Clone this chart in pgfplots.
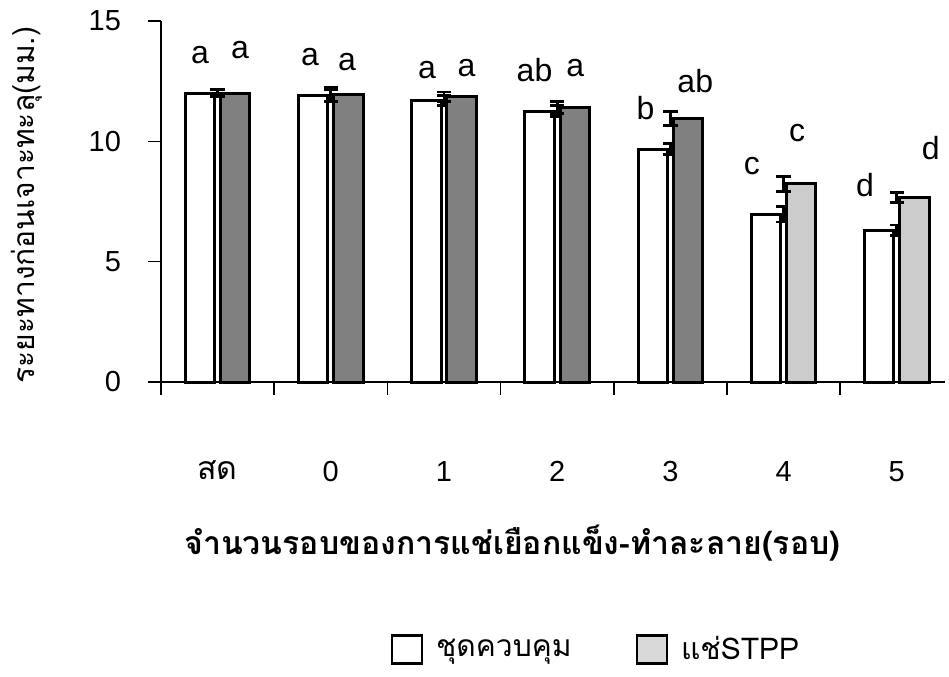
\documentclass[border=0pt]{standalone}
\usepackage{fontspec}
\setmainfont{Liberation Sans}
\newfontfamily\thaifont[Script=Thai]{Loma}
\usepackage{pgfplots}
\pgfplotsset{compat=1.18}

% mean and standard error per freeze-thaw cycle
\pgfplotstableread{
x  c     ce
0  12.00 0.15
1  11.90 0.25
2  11.70 0.20
3  11.26 0.22
4  9.68  0.24
5  6.97  0.32
6  6.30  0.22
}\controldata
\pgfplotstableread{
x  s     se
0  12.00 0.15
1  11.95 0.30
2  11.85 0.20
3  11.41 0.25
4  10.95 0.29
}\stppdark
\pgfplotstableread{
x  s     se
5  8.23  0.30
6  7.66  0.20
}\stpplight
% significance letters
\pgfplotstableread{
x     y     lbl
-0.155 13.60 a
0.198  13.80 a
0.816  13.50 a
1.143  13.30 a
1.850  12.96 a
2.200  13.05 a
2.800  12.96 ab
3.160  13.05 a
3.780  11.40 b
4.220  12.50 ab
4.720  8.97  c
5.120  10.35 c
5.720  8.20  d
6.300  9.70  d
}\letters

\pgfplotsset{
  barbase/.style={ybar, bar width=0.26, draw=black, line width=1.5pt, forget plot,
    error bars/y dir=both, error bars/y explicit,
    error bars/error bar style={line width=1.4pt},
    error bars/error mark options={rotate=90, mark size=3.6pt, line width=1.4pt}},
}

\begin{document}
\begin{tikzpicture}
\useasboundingbox (0,0) rectangle (474.5pt,338pt);
\begin{axis}[
  at={(80.5pt,147pt)}, anchor=south west,
  scale only axis, width=392pt, height=180.5pt,
  xmin=-0.5, xmax=6.426, ymin=0, ymax=15,
  axis x line*=bottom, axis y line*=left,
  axis line style={line width=1pt, -},
  ytick={0,5,10,15},
  xtick={-0.5,0.5,1.5,2.5,3.5,4.5,5.5}, xticklabels={},
  extra x ticks={0,1,2,3,4,5,6},
  extra x tick labels={{\thaifont\fontsize{16}{18}\selectfont สด},0,1,2,3,4,5},
  extra x tick style={major tick length=0pt, tick label style={yshift=-36pt}},
  tick align=outside, major tick length=6.5pt,
  tick style={line width=0.8pt, black},
  tick label style={font=\fontsize{14.5}{16}\selectfont},
  /pgf/number format/assume math mode=true,
  yticklabel style={xshift=-10pt},
  ylabel={\thaifont ระยะทางก่อนเจาะทะลุ(มม.)},
  ylabel style={at={(axis description cs:-0.171,0.49)}, anchor=center, rotate=0, font=\fontsize{15}{17}\selectfont},
  xlabel={\thaifont\bfseries จำนวนรอบของการแช่เยือกแข็ง-ทำละลาย(รอบ)},
  xlabel style={at={(axis description cs:0.448,-0.447)}, anchor=center, font=\fontsize{16}{18}\selectfont},
  legend style={at={(axis description cs:0.556,-0.74)}, anchor=center, draw=none,
    font=\fontsize{15}{17}\selectfont\thaifont, legend columns=2,
    /tikz/every even column/.append style={column sep=30pt}},
  legend cell align=left,
  clip=false,
]
\addplot[barbase, bar shift=-0.155, fill=white]
  table[x=x, y=c, y error=ce] {\controldata};
\addplot[barbase, bar shift=0.155, fill=black!50]
  table[x=x, y=s, y error=se] {\stppdark};
\addplot[barbase, bar shift=0.155, fill=black!20]
  table[x=x, y=s, y error=se] {\stpplight};
\addplot[draw=none, mark=none, forget plot, nodes near coords, point meta=explicit symbolic,
  every node near coord/.style={anchor=center, font=\fontsize{16}{18}\selectfont}]
  table[x=x, y=y, meta=lbl] {\letters};
\addlegendimage{legend image code/.code={\draw[black, line width=1.4pt, fill=white] (0pt,-7pt) rectangle (15pt,7pt); \path[draw=none] (0pt,0pt) -- (20pt,0pt);}}
\addlegendentry{ชุดควบคุม}
\addlegendimage{legend image code/.code={\draw[black, line width=1.4pt, fill=black!15] (0pt,-7pt) rectangle (15pt,7pt); \path[draw=none] (0pt,0pt) -- (20pt,0pt);}}
\addlegendentry{แช่STPP}
\end{axis}
\end{tikzpicture}
\end{document}
